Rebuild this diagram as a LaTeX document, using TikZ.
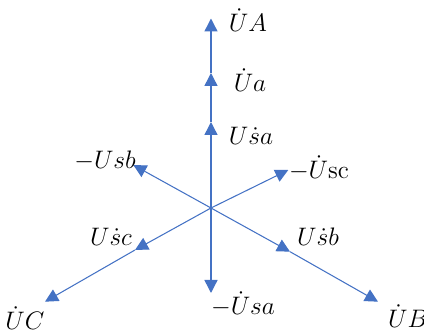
\documentclass[tikz,border=0pt]{standalone}
\usepackage{xcolor}
\usepackage{tikz}
\usetikzlibrary{arrows.meta}
\definecolor{PhBlue}{HTML}{4472C4}

\tikzset{
  phasor/.style={PhBlue, line width=0.6pt, -{Triangle[length=7.4pt,width=7.4pt]}},
  phasorV/.style={phasor, line width=0.8pt},
  plabel/.style={inner sep=0pt, font=\Large}
}

\begin{document}
\begin{tikzpicture}
        \useasboundingbox (-4.22,-2.54) rectangle (4.26,4.16);
        % Phasor tips
        \coordinate (O)   at (0,0);
        \coordinate (Usa) at (0,1.72);
        \coordinate (Ua)  at (0,2.70);
        \coordinate (UA)  at (0,3.79);
        \coordinate (nUsa) at (0,-1.70);
        \coordinate (Usb) at (1.58,-0.874);
        \coordinate (UB)  at (3.34,-1.874);
        \coordinate (nUsc) at (1.546,0.76);
        \coordinate (nUsb) at (-1.554,0.86);
        \coordinate (Usc) at (-1.52,-0.84);
        \coordinate (UC)  at (-3.32,-1.874);

        % Vertical phasors
        \draw[phasorV] (O) -- (Usa);
        \draw[phasorV] (Usa) -- (Ua);
        \draw[phasorV] (Ua) -- (UA);
        \draw[phasorV] (O) -- (nUsa);

        % Oblique phasors
        \draw[phasor] (O) -- (Usb);
        \draw[phasor] (Usb) -- (UB);
        \draw[phasor] (O) -- (Usc);
        \draw[phasor] (Usc) -- (UC);
        \draw[phasor] (O) -- (nUsc);
        \draw[phasor] (O) -- (nUsb);

        % Labels
        \node[plabel] (lUA)  at (0.74,3.76)  {$\dot{U}A$};
        \node[plabel] (lUa)  at (0.78,2.56)  {$\dot{U}a$};
        \node[plabel] (lUsa) at (0.80,1.44)  {$U\dot{s}a$};
        \node[plabel] (lnUsc) at (2.16,0.80) {$-\dot{U}\mathrm{sc}$};
        \node[plabel] (lUsb) at (2.14,-0.58) {$U\dot{s}b$};
        \node[plabel] (lnUsa) at (0.64,-1.92) {$-\dot{U}sa$};
        \node[plabel] (lUB)  at (3.94,-2.16) {$\dot{U}B$};
        \node[plabel] (lnUsb) at (-2.12,0.94) {$-Usb$};
        \node[plabel] (lUsc) at (-2.0,-0.58) {$U\dot{s}c$};
        \node[plabel] (lUC)  at (-3.72,-2.20) {$\dot{U}C$};
      \end{tikzpicture}
\end{document}
